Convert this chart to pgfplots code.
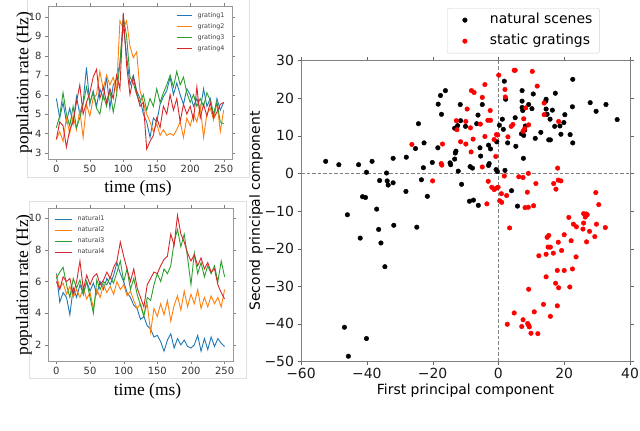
\documentclass[border=0pt]{standalone}
\usepackage{pgfplots}
\usepackage{pgfplotstable}
\pgfplotsset{compat=1.18}
\usepackage{fontspec}
\setmainfont{DejaVu Sans}
\newfontfamily\serif{Liberation Serif}

\definecolor{c0}{HTML}{1F77B4}
\definecolor{c1}{HTML}{FF7F0E}
\definecolor{c2}{HTML}{2CA02C}
\definecolor{c3}{HTML}{D62728}

% firing rate traces, 5 ms steps
\pgfplotstableread{
t g1 g2 g3 g4
0 5.8 3.7 4.3 3.7
5 4.8 4.1 4.9 4.6
10 5.6 3.6 6.1 4.4
15 4.6 4.8 5.0 3.3
20 5.3 4.0 4.4 4.2
25 4.5 4.9 5.4 4.6
30 5.9 4.2 4.3 5.6
35 5.0 5.2 4.8 6.5
40 5.6 3.8 5.5 5.0
45 7.4 5.5 6.4 5.6
50 5.5 4.9 5.6 6.1
55 6.2 5.8 6.1 6.9
60 5.4 6.0 5.3 7.3
65 6.3 7.2 5.0 5.8
70 5.8 6.3 6.0 6.4
75 6.9 7.0 5.4 5.6
80 5.3 6.5 6.2 6.3
85 6.5 6.9 5.1 5.8
90 6.8 6.2 6.0 7.0
95 7.6 9.8 7.6 6.3
100 9.6 9.4 10.0 10.2
105 8.0 9.8 9.0 7.5
110 6.5 8.5 6.9 6.0
115 7.0 7.9 6.6 6.9
120 6.2 8.2 6.0 6.1
125 5.8 6.2 5.6 5.4
130 5.0 5.6 6.0 5.6
135 4.6 5.0 5.2 3.2
140 3.8 4.6 5.8 3.6
145 4.8 4.1 5.4 3.9
150 4.6 4.5 6.3 4.8
155 5.5 3.9 5.6 4.3
160 5.9 4.2 6.1 5.4
165 6.2 3.9 6.5 5.0
170 6.9 4.0 7.0 6.0
175 6.0 3.9 6.4 5.2
180 6.6 4.2 7.2 5.8
185 6.0 4.6 6.5 4.6
190 5.5 3.8 6.9 5.5
195 6.3 4.8 6.1 5.0
200 6.0 4.4 5.6 5.4
205 5.4 5.0 6.0 4.7
210 5.8 4.6 5.4 6.4
215 5.2 5.4 5.8 4.8
220 6.3 3.8 5.4 5.5
225 5.4 5.0 6.1 4.9
230 5.8 5.3 5.7 5.6
235 4.9 4.7 5.0 4.8
240 5.8 5.6 5.6 5.1
245 5.2 4.1 4.6 5.5
250 5.6 5.2 4.5 5.6
}\gratings

\pgfplotstableread{
t n1 n2 n3 n4
0 6.5 6.4 6.2 6.0
5 4.7 5.6 6.6 5.5
10 5.3 5.9 6.9 6.3
15 5.0 5.2 5.8 6.0
20 3.9 5.7 5.0 6.2
25 5.6 5.0 6.2 5.2
30 5.0 5.5 5.6 6.0
35 5.8 5.0 6.1 7.3
40 5.2 5.6 5.2 5.5
45 6.0 4.9 6.0 6.4
50 5.4 5.3 5.0 5.8
55 5.9 4.3 4.0 6.3
60 5.2 5.5 6.1 6.5
65 6.0 5.0 5.5 5.8
70 5.5 5.8 6.0 6.1
75 6.2 5.3 5.8 6.6
80 5.8 5.7 6.3 6.2
85 6.4 5.2 5.9 6.9
90 7.2 6.0 6.6 7.3
95 6.5 5.5 7.3 8.5
100 6.0 5.8 6.0 7.6
105 5.3 5.1 6.8 6.8
110 5.0 5.4 5.5 6.0
115 4.5 4.8 6.2 6.8
120 4.3 4.3 5.2 5.6
125 3.6 4.6 4.5 5.0
130 3.8 3.9 3.8 4.4
135 3.2 4.6 5.0 5.8
140 3.0 2.8 4.8 6.2
145 2.5 4.3 5.8 6.6
150 2.6 3.8 6.5 6.5
155 2.2 4.6 6.0 7.0
160 1.6 3.9 6.8 7.4
165 2.3 4.8 6.5 7.6
170 2.7 3.5 7.0 9.0
175 1.8 4.5 8.5 8.3
180 2.4 5.1 9.3 10.2
185 2.0 4.2 8.2 9.0
190 2.3 5.4 9.0 8.5
195 1.9 4.4 7.5 7.8
200 1.8 5.2 5.8 7.3
205 2.0 4.6 7.8 7.7
210 2.6 5.5 6.5 7.0
215 1.6 4.3 7.2 7.5
220 2.4 5.0 6.3 6.8
225 1.7 4.4 7.0 7.2
230 2.5 5.1 6.5 6.6
235 1.9 4.6 7.0 6.8
240 2.4 5.0 6.0 5.8
245 2.1 4.4 7.3 5.3
250 1.9 5.5 6.3 4.9
}\naturals

% PCA projections
\pgfplotstableread{
x y
-52.5 3.2
-48.5 2.3
-42.5 2.3
-40.1 0.3
-38.4 3.2
-34.0 0.1
-36.1 -1.9
-33.8 -2.0
-33.5 -3.1
-32.0 -2.5
-32.0 4.0
-28.0 4.3
-28.1 -4.8
-23.4 -1.7
-22.8 1.5
-22.6 8.1
-24.3 13.2
-25.2 6.6
-20.1 2.9
-21.6 -6.1
-18.3 18.4
-17.6 20.7
-16.1 22.0
-17.3 15.7
-18.4 6.8
-14.7 2.8
-14.5 2.3
-13.3 3.8
-13.1 5.4
-12.9 5.9
-12.2 0.6
-11.2 -2.9
-13.3 12.0
-11.6 18.3
-11.5 14.0
-12.4 12.7
-10.0 12.5
-8.6 1.8
-7.9 1.4
-6.6 13.2
-6.2 15.5
-5.6 6.8
-4.9 18.3
-5.4 4.6
-3.0 7.5
-2.4 6.5
-3.0 2.1
-2.8 2.6
-0.5 8.4
-0.7 1.0
-0.3 0.5
1.8 24.5
2.2 19.7
0.3 12.8
1.2 14.4
1.5 11.7
2.8 8.1
2.0 0.8
5.1 14.8
5.3 7.2
7.2 19.2
7.2 22.0
7.2 17.5
7.4 16.7
8.2 12.6
8.0 11.5
7.7 10.1
7.0 10.5
7.6 4.0
9.2 18.3
10.2 17.2
10.6 21.1
11.2 9.3
12.9 10.9
14.5 19.7
14.4 19.2
14.5 17.1
14.8 15.7
15.7 14.4
16.4 16.8
15.3 8.9
15.8 8.9
17.1 12.5
17.3 21.3
18.7 12.6
19.0 10.4
19.9 13.5
20.2 15.6
21.8 10.3
22.5 17.7
22.6 25.0
22.6 8.1
27.9 18.8
29.7 16.5
32.7 18.3
36.1 14.3
4.0 -4.6
-41.3 -6.2
-40.4 -6.4
-8.8 -7.4
-7.6 -7.1
-6.1 -8.5
5.8 -8.7
-45.9 -11.0
-37.0 -9.5
-42.0 -17.2
-36.4 -14.9
-35.7 -18.5
-31.8 -13.8
-24.8 -14.3
-34.5 -24.8
-46.8 -40.9
-40.1 -43.9
-45.6 -48.6
}\natpca

\pgfplotstableread{
x y
-26.3 7.7
-20.0 -2.0
-17.4 2.6
-17.2 2.2
-17.0 7.8
-12.8 14.0
-12.6 11.6
-11.5 8.4
-9.5 17.1
-9.9 13.8
-9.9 7.8
-8.5 12.1
-7.7 9.1
-8.3 5.7
-8.2 22.0
-7.4 21.5
-4.1 23.6
-4.9 20.2
-3.2 14.1
-2.4 14.1
-2.5 16.7
-5.5 13.1
-4.1 9.8
-0.6 10.3
-0.2 10.2
-1.3 9.0
-0.8 4.5
-4.9 1.7
0.1 26.1
2.0 22.3
2.1 20.3
2.9 9.7
3.9 12.5
4.4 13.0
4.8 27.4
5.1 27.4
10.3 27.1
11.8 23.2
8.3 17.4
7.7 14.5
7.5 11.2
8.0 11.9
9.2 12.9
13.9 18.7
13.9 15.6
18.3 13.8
18.0 1.4
1.8 -0.7
6.2 -0.9
7.5 -1.1
9.1 0.0
-3.1 -2.1
-2.0 -3.7
-1.3 -4.3
-0.6 -3.9
-0.1 -3.7
0.9 -5.4
2.5 -5.9
0.4 -7.3
1.0 -7.7
-3.5 -8.1
8.8 -5.0
11.4 -2.7
8.1 -9.1
9.1 -9.0
10.7 -8.6
16.8 -2.7
17.5 -4.2
18.2 -1.8
19.0 -2.0
29.6 -5.1
30.5 -8.3
3.4 -14.5
21.4 -11.7
25.9 -10.7
26.7 -10.8
26.4 -11.6
27.0 -11.0
22.8 -13.5
23.7 -14.2
25.9 -13.2
25.7 -14.8
29.8 -13.5
32.5 -14.4
27.7 -15.4
29.3 -16.8
26.8 -18.2
20.0 -16.3
15.3 -16.5
14.8 -17.0
22.1 -17.9
18.2 -18.3
15.1 -19.6
15.8 -19.6
19.2 -20.5
16.7 -21.2
14.5 -21.5
12.3 -21.9
23.6 -22.2
22.5 -25.4
20.0 -25.8
17.9 -25.8
14.5 -27.5
17.4 -29.2
18.3 -30.4
21.7 -30.2
9.2 -30.8
13.7 -34.8
17.9 -35.2
4.8 -37.1
10.9 -36.8
15.8 -38.0
7.5 -38.9
2.7 -40.1
7.1 -40.7
8.9 -39.9
9.2 -40.4
9.4 -40.8
9.9 -42.5
12.0 -42.6
}\grapca

\pgfplotsset{
  rateplot/.style={
    scale only axis, width=184bp, height=153bp,
    xmin=-12.5, xmax=262.5, xtick={0,50,...,250},
    tick align=outside, major tick length=3bp,
    axis line style={black!40}, tick style={black!50},
    ticklabel style={font=\fontsize{10}{11}\selectfont, text=black!80},
    /pgf/number format/assume math mode=true,
    xlabel={time (ms)}, ylabel={population rate (Hz)},
    label style={font=\serif\fontsize{17.5}{19}\selectfont},
    legend cell align=left,
    legend style={draw=none, fill=none, font=\fontsize{6.4}{7}\selectfont,
      text=black!75,
      nodes={inner sep=0.5bp, text height=5bp, text depth=1.5bp},
      row sep=3.5bp,
      /tikz/every odd column/.append style={column sep=5bp}},
  },
}

\begin{document}
\begin{tikzpicture}[x=1bp,y=1bp]
\useasboundingbox (0bp,0bp) rectangle (640bp,431bp);
\draw[black!12, line width=0.8bp] (27bp,433bp) rectangle (249bp,254bp);
\draw[black!12, line width=0.8bp] (29bp,230bp) rectangle (246bp,53bp);

% top left: gratings
\begin{axis}[rateplot, at={(48bp,272bp)}, anchor=south west,
  ymin=2.69, ymax=10.56, ytick={3,...,10},
  xlabel style={at={(axis description cs:0.489,-0.19)}, anchor=center},
  ylabel style={at={(axis description cs:-0.13,0.5)}, anchor=center},
  legend image code/.code={\draw[#1] (0bp,0bp) -- (15bp,0bp);},
  legend style={at={(axis description cs:0.679,0.974)}, anchor=north west}]
\addplot[c0, line width=0.9bp] table[x=t, y=g1] {\gratings};
\addplot[c1, line width=0.9bp] table[x=t, y=g2] {\gratings};
\addplot[c2, line width=0.9bp] table[x=t, y=g3] {\gratings};
\addplot[c3, line width=0.9bp] table[x=t, y=g4] {\gratings};
\legend{grating1, grating2, grating3, grating4}
\end{axis}

% bottom left: natural scenes
\begin{axis}[rateplot, at={(48bp,70bp)}, anchor=south west, width=185bp,
  ymin=0.98, ymax=10.65, ytick={2,4,...,10},
  xlabel style={at={(axis description cs:0.538,-0.196)}, anchor=center},
  ylabel style={at={(axis description cs:-0.13,0.497)}, anchor=center},
  legend image code/.code={\draw[#1] (0bp,0bp) -- (17bp,0bp);},
  legend style={at={(axis description cs:0.016,0.967)}, anchor=north west}]
\addplot[c0, line width=0.9bp] table[x=t, y=n1] {\naturals};
\addplot[c1, line width=0.9bp] table[x=t, y=n2] {\naturals};
\addplot[c2, line width=0.9bp] table[x=t, y=n3] {\naturals};
\addplot[c3, line width=0.9bp] table[x=t, y=n4] {\naturals};
\legend{natural1, natural2, natural3, natural4}
\end{axis}

% right: PCA scatter
\begin{axis}[scale only axis, at={(301bp,69.5bp)}, anchor=south west,
  width=329bp, height=301bp,
  xmin=-60, xmax=40, ymin=-50, ymax=30,
  xtick={-60,-40,...,40}, xticklabels={−60,−40,−20,0,20,40},
  ytick={-50,-40,...,30}, yticklabels={−50,−40,−30,−20,−10,0,10,20,30},
  tick align=outside, major tick length=3.5bp,
  axis line style={black!50}, tick style={black!60},
  ticklabel style={font=\fontsize{14}{16}\selectfont, text=black!90},
  label style={font=\fontsize{14}{16}\selectfont},
  xlabel={First principal component}, ylabel={Second principal component},
  xlabel style={at={(axis description cs:0.5,-0.0963)}, anchor=center},
  ylabel style={at={(axis description cs:-0.1368,0.5)}, anchor=center},
  legend cell align=left,
  legend image code/.code={\path[draw=none, fill=none] (-11.7bp,0bp) rectangle (0bp,0bp); \draw[#1] plot coordinates {(0bp,0bp)};},
  legend style={at={(axis description cs:0.4438,1.1744)}, anchor=north west,
    draw=black!18, rounded corners=2bp, fill=white,
    font=\fontsize{14}{16}\selectfont, inner xsep=6bp, inner ysep=4.2bp,
    nodes={inner sep=1bp, text height=10.5bp, text depth=3bp},
    row sep=5.5bp,
    /tikz/every odd column/.append style={column sep=21.7bp}}]
\addplot[black!50, line width=0.8bp, dash pattern=on 3.7bp off 1.8bp, forget plot] coordinates {(-60,0) (40,0)};
\addplot[black!50, line width=0.8bp, dash pattern=on 3.7bp off 1.8bp, forget plot] coordinates {(0,-50) (0,30)};
\addplot[only marks, mark=*, mark size=2.3bp, black] table[x=x, y=y] {\natpca};
\addplot[only marks, mark=*, mark size=2.3bp, red, mark options={fill=red}] table[x=x, y=y] {\grapca};
\legend{natural scenes, static gratings}
\end{axis}
\end{tikzpicture}
\end{document}
